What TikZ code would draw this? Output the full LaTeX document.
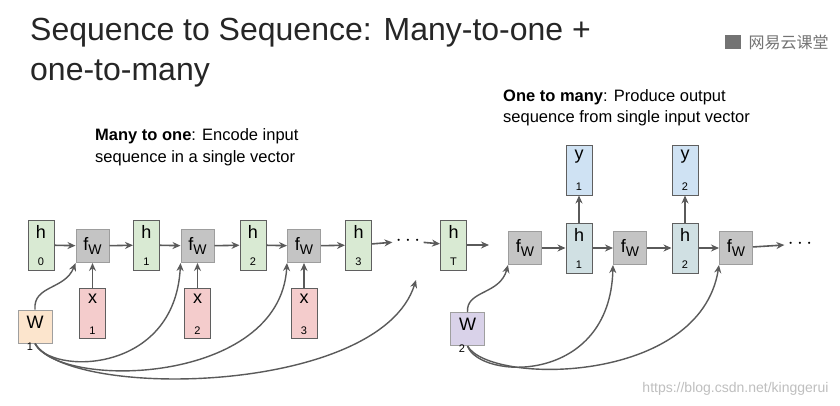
\documentclass[tikz,border=0pt]{standalone}
\usepackage{fontspec}
\setmainfont{Liberation Sans}
\newfontfamily\cjk{Noto Sans CJK SC}
\usetikzlibrary{arrows.meta}
\definecolor{bd}{HTML}{5F5F5F}
\definecolor{gr}{HTML}{D9EAD3}
\definecolor{fw}{HTML}{C4C4C4}
\definecolor{pk}{HTML}{F4CCCC}
\definecolor{og}{HTML}{FCE5CD}
\definecolor{pu}{HTML}{D9D2E9}
\definecolor{bl}{HTML}{CFE2F3}
\definecolor{tl}{HTML}{D0E0E3}
\definecolor{ln}{HTML}{5A5A5A}
\tikzset{
 box/.style={draw=bd,line width=1pt,minimum width=26pt,minimum height=50pt,inner sep=0pt},
 hbox/.style={box,fill=gr},
 main/.style={label={[anchor=north,yshift=-2pt,font=\fontsize{18}{18}\selectfont]north:#1}},
 sub/.style={label={[anchor=south,yshift=1pt,font=\fontsize{11}{11}\selectfont]south:#1}},
 fbox/.style={draw=fw!80!black,fill=fw,line width=1pt,minimum width=33pt,minimum height=33pt,inner sep=0pt,font=\fontsize{18}{18}\selectfont},
 wbox/.style={draw=bd!60,line width=1pt,minimum width=34pt,minimum height=33pt,inner sep=0pt},
 ar/.style={draw=ln,line width=1.6pt,-{Stealth[length=8pt,width=7pt]}},
 cv/.style={draw=ln,line width=1.4pt,-{Stealth[length=8pt,width=7pt]}},
}
\newcommand{\fwtxt}{f\raisebox{-4pt}{\fontsize{14}{14}\selectfont W}}
\begin{document}
\begin{tikzpicture}[x=1pt,y=-1pt]
\useasboundingbox[fill=white] (0,0) rectangle (840,405);
\node[anchor=base west,inner sep=0pt,font=\fontsize{32}{32}\selectfont,text=black!85] (t1) at (30,40) {Sequence to Sequence: Many-to-one +};
\node[anchor=base west,inner sep=0pt,font=\fontsize{32}{32}\selectfont,text=black!85] (t2) at (30,80) {one-to-many};
\node[anchor=base west,inner sep=0pt,font=\fontsize{16.5}{16.5}\selectfont] (c1) at (95,140) {\textbf{Many to one}: Encode input};
\node[anchor=base west,inner sep=0pt,font=\fontsize{16.5}{16.5}\selectfont] (c2) at (95,162) {sequence in a single vector};
\node[anchor=base west,inner sep=0pt,font=\fontsize{16.5}{16.5}\selectfont] (c3) at (503,101) {\textbf{One to many}: Produce output};
\node[anchor=base west,inner sep=0pt,font=\fontsize{16.5}{16.5}\selectfont] (c4) at (503,122) {sequence from single input vector};
\node[anchor=west,text=black!55,font=\cjk\fontsize{16}{16}\selectfont] (wm) at (745,42) {网易云课堂};
\fill[black!55] (725,35) rectangle (741,49);
\node[anchor=base east,text=black!25,font=\fontsize{14}{14}\selectfont] (wm2) at (832,392) {https://blog.csdn.net/kinggerui};
% left
\node[hbox,main=h,sub=0] (h0) at (41,245) {};
\node[fbox] (f1) at (92.5,246) {\fwtxt};
\node[hbox,main=h,sub=1] (h1) at (146.5,245) {};
\node[fbox] (f2) at (197.5,246) {\fwtxt};
\node[hbox,main=h,sub=2] (h2) at (253,245) {};
\node[fbox] (f3) at (304,246) {\fwtxt};
\node[hbox,main=h,sub=3] (h3) at (358.5,245) {};
\node[font=\fontsize{22}{22}\selectfont] (dots1) at (408,241) {$\cdots$};
\node[hbox,main=h,sub=T] (hT) at (453.5,245) {};
\node[box,fill=pk,main=x,sub=1] (x1) at (92.5,313.5) {};
\node[box,fill=pk,main=x,sub=2] (x2) at (197.5,313.5) {};
\node[box,fill=pk,main=x,sub=3] (x3) at (304,313.5) {};
\node[wbox,fill=og,font=\fontsize{18}{18}\selectfont,anchor=center] (w1) at (35,326.5) {\raisebox{9pt}{W}};
\node[font=\fontsize{11}{11}\selectfont] (w1s) at (30,347) {1};
\draw[ar] (h0) -- (f1); \draw[ar] (f1) -- (h1);
\draw[ar] (h1) -- (f2); \draw[ar] (f2) -- (h2);
\draw[ar] (h2) -- (f3); \draw[ar] (f3) -- (h3);
\draw[ar] (h3) -- (dots1); \draw[ar] (dots1) -- (hT);
\draw[ar] (x1) -- (f1); \draw[ar] (x2) -- (f2); \draw[ar] (x3) -- (f3);
\coordinate (e1) at (489,245);
\draw[ar] (hT) -- (e1);
\coordinate (e2) at (416,280);
\draw[cv] (w1.north) .. controls (33,285) and (65,290) .. (f1.south west);
\draw[cv] (w1.south) .. controls (50,375) and (175,375) .. (f2.south west);
\draw[cv] (w1.south) .. controls (60,390) and (280,385) .. (f3.south west);
\draw[cv] (w1.south) .. controls (70,400) and (380,395) .. (e2);
% right
\node[fbox] (f4) at (525,248) {\fwtxt};
\node[box,fill=tl,main=h,sub=1] (g1) at (579,248) {};
\node[box,fill=bl,main=y,sub=1] (y1) at (579,170) {};
\node[fbox] (f5) at (630,248) {\fwtxt};
\node[box,fill=tl,main=h,sub=2] (g2) at (685,248) {};
\node[box,fill=bl,main=y,sub=2] (y2) at (685,170) {};
\node[fbox] (f6) at (736,248) {\fwtxt};
\node[font=\fontsize{22}{22}\selectfont] (dots2) at (800,244) {$\cdots$};
\node[wbox,fill=pu,font=\fontsize{18}{18}\selectfont] (w2) at (467.5,329) {\raisebox{9pt}{W}};
\node[font=\fontsize{11}{11}\selectfont] (w2s) at (462,349) {2};
\draw[ar] (f4) -- (g1); \draw[ar] (g1) -- (f5);
\draw[ar] (f5) -- (g2); \draw[ar] (g2) -- (f6);
\draw[ar] (f6) -- (dots2);
\draw[ar] (g1) -- (y1); \draw[ar] (g2) -- (y2);
\draw[cv] (w2.north) .. controls (466,290) and (500,295) .. (f4.south west);
\draw[cv] (w2.south) .. controls (480,380) and (610,385) .. (f5.south west);
\draw[cv] (w2.south) .. controls (490,385) and (700,385) .. (f6.south west);
\end{tikzpicture}
\end{document}
